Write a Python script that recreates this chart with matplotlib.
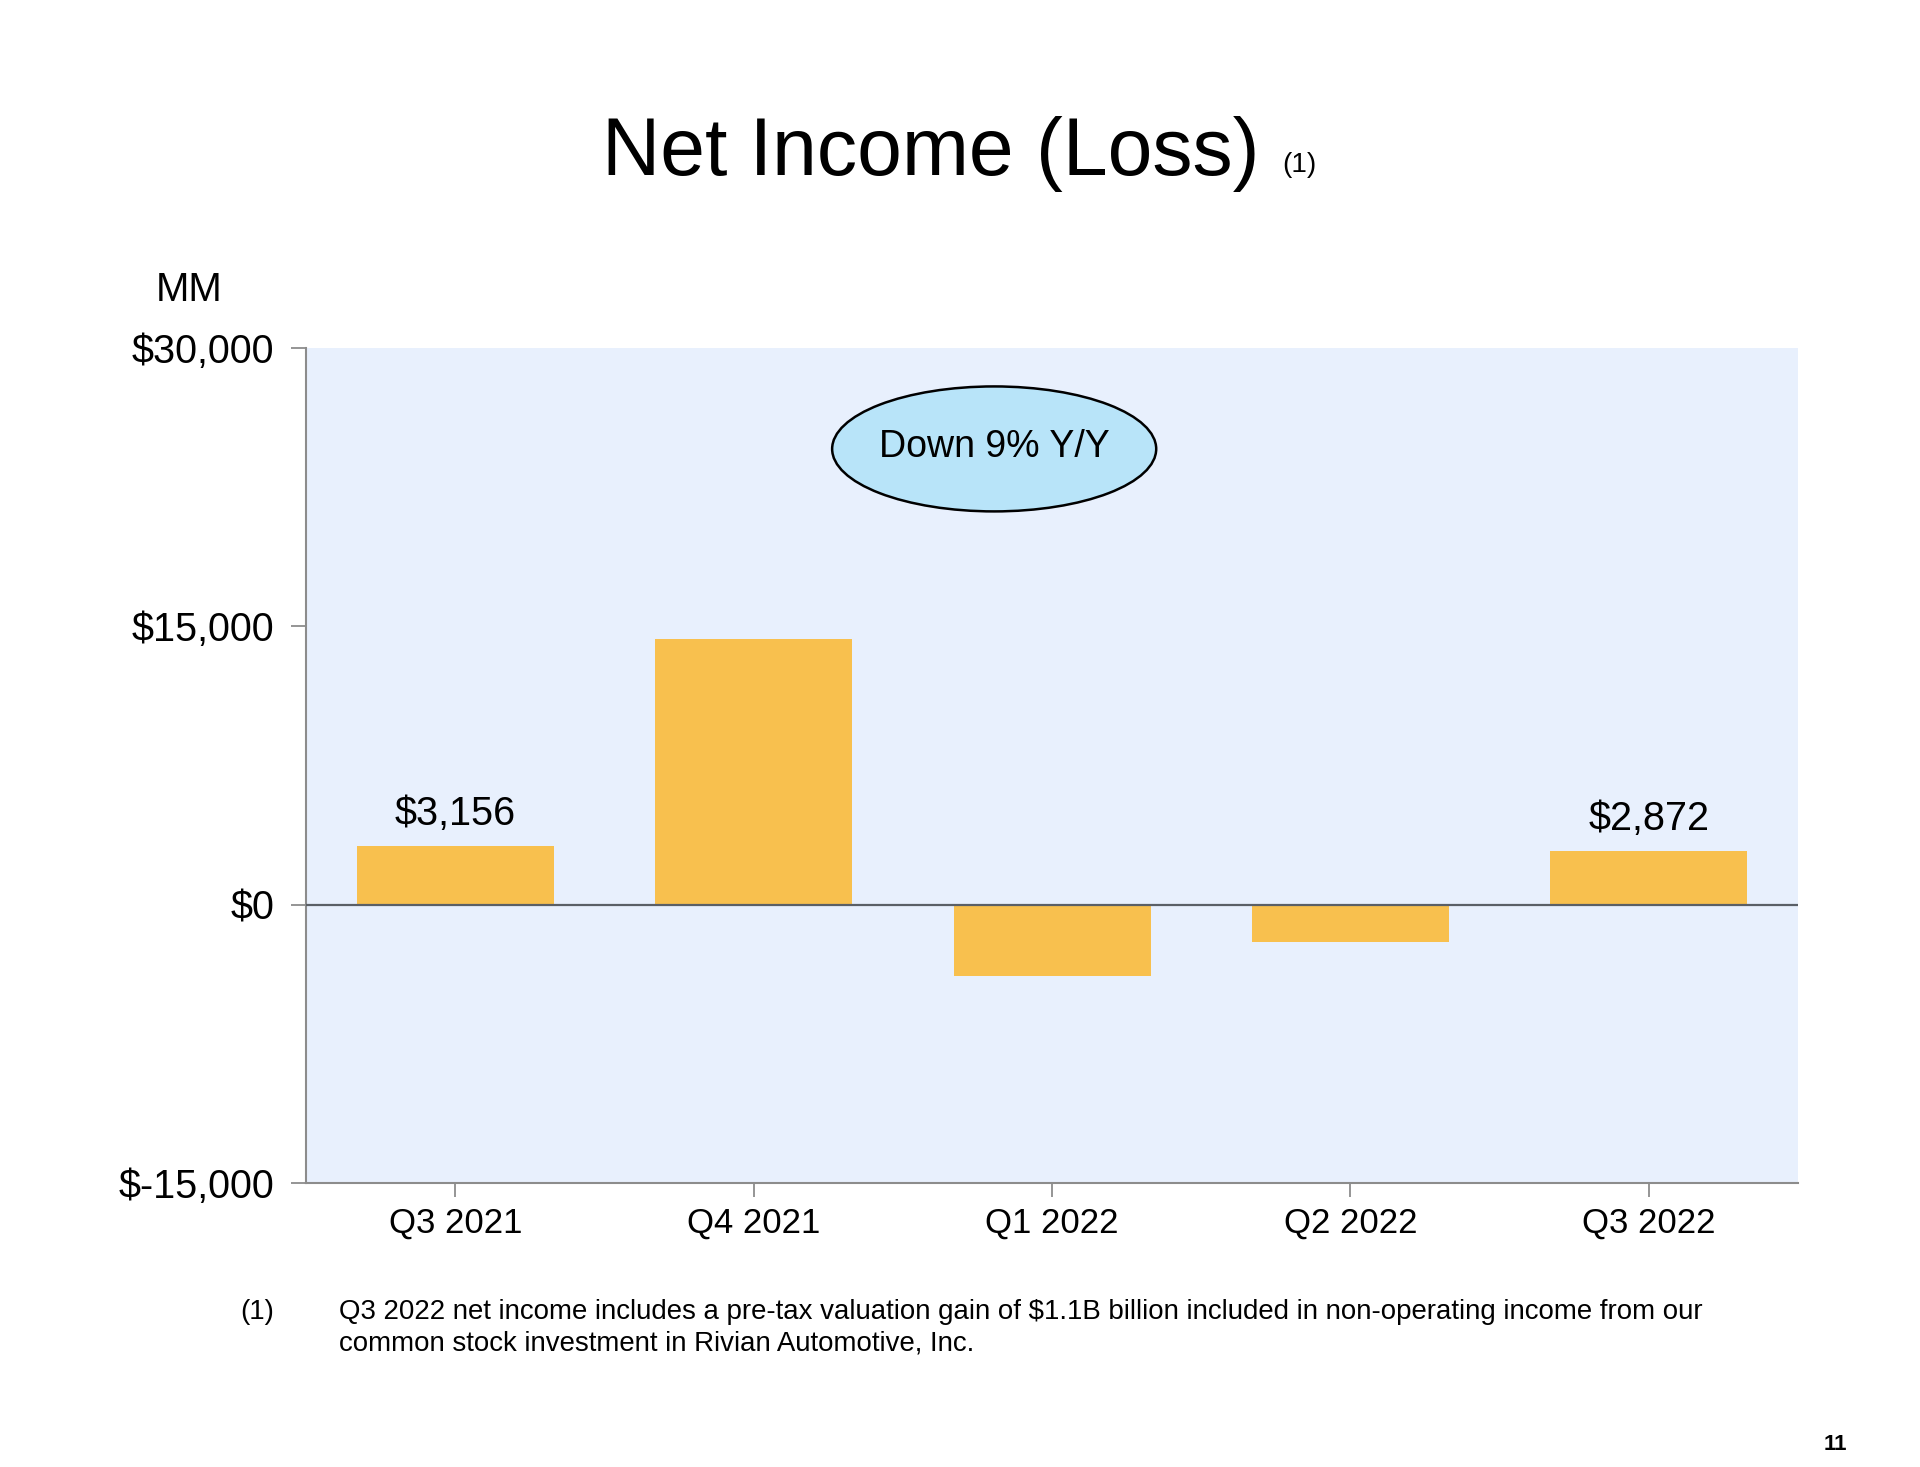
import numpy as np
import matplotlib
matplotlib.use("Agg")
import matplotlib.pyplot as plt
from matplotlib.patches import Ellipse

plt.rcParams["font.family"] = ["Liberation Sans", "DejaVu Sans"]

quarters = ["Q3 2021", "Q4 2021", "Q1 2022", "Q2 2022", "Q3 2022"]
net_income = [3156, 14323, -3844, -2028, 2872]
labelled = {0: "$3,156", 4: "$2,872"}
yticks = [-15000, 0, 15000, 30000]
ytick_labels = ["$-15,000", "$0", "$15,000", "$30,000"]

BAR = "#F8C04E"; BG = "#E8F0FD"; SPINE = "#8C8C8C"

fig = plt.figure(figsize=(19.2, 14.67), dpi=100)
ax = fig.add_axes([0.1594, 0.1936, 0.7771, 0.5692])
ax.set_facecolor(BG)
x = np.arange(len(quarters))
ax.bar(x, net_income, 0.66, color=BAR, zorder=2)
ax.axhline(0, color="#5A5F66", lw=1.6, zorder=3)
ax.set_xlim(-0.5, len(quarters) - 0.5)
ax.set_ylim(-15000, 30000)
ax.set_yticks(yticks); ax.set_yticklabels(ytick_labels)
ax.set_xticks(x); ax.set_xticklabels(quarters)
ax.tick_params(axis="y", labelsize=28.5, length=11, width=1.3, color=SPINE, pad=12)
ax.tick_params(axis="x", labelsize=25, length=10, width=1.3, color=SPINE, pad=7)
for s in ["top", "right"]:
    ax.spines[s].set_visible(False)
for s in ["left", "bottom"]:
    ax.spines[s].set_color(SPINE); ax.spines[s].set_linewidth(1.5)

for i, txt in labelled.items():
    ax.text(x[i], net_income[i] + 700, txt, ha="center", va="bottom", fontsize=28.5)

ax.add_patch(Ellipse((1.806, 24560), 1.086, 6735, facecolor="#B8E4F9",
                     edgecolor="black", lw=1.8, zorder=4))
ax.text(1.806, 24650, "Down 9% Y/Y", ha="center", va="center", fontsize=27, zorder=5)

fig.text(189 / 1920, 1 - 290 / 1467, "MM", fontsize=29, ha="center", va="center")
fig.text(931 / 1920, 1 - 154 / 1467, "Net Income (Loss)", fontsize=58, ha="center", va="center")
fig.text(1299 / 1920, 1 - 165 / 1467, "(1)", fontsize=20, ha="center", va="center")

fig.text(240 / 1920, 1 - 1312 / 1467, "(1)", fontsize=19.9, va="center")
fig.text(339 / 1920, 1 - 1312 / 1467,
         "Q3 2022 net income includes a pre-tax valuation gain of $1.1B billion included in non-operating income from our",
         fontsize=19.9, va="center")
fig.text(339 / 1920, 1 - 1344 / 1467, "common stock investment in Rivian Automotive, Inc.",
         fontsize=19.9, va="center")
fig.text(1835 / 1920, 1 - 1445 / 1467, "11", fontsize=16, fontweight="bold", ha="center", va="center")

fig.savefig("out.png", dpi=100)
